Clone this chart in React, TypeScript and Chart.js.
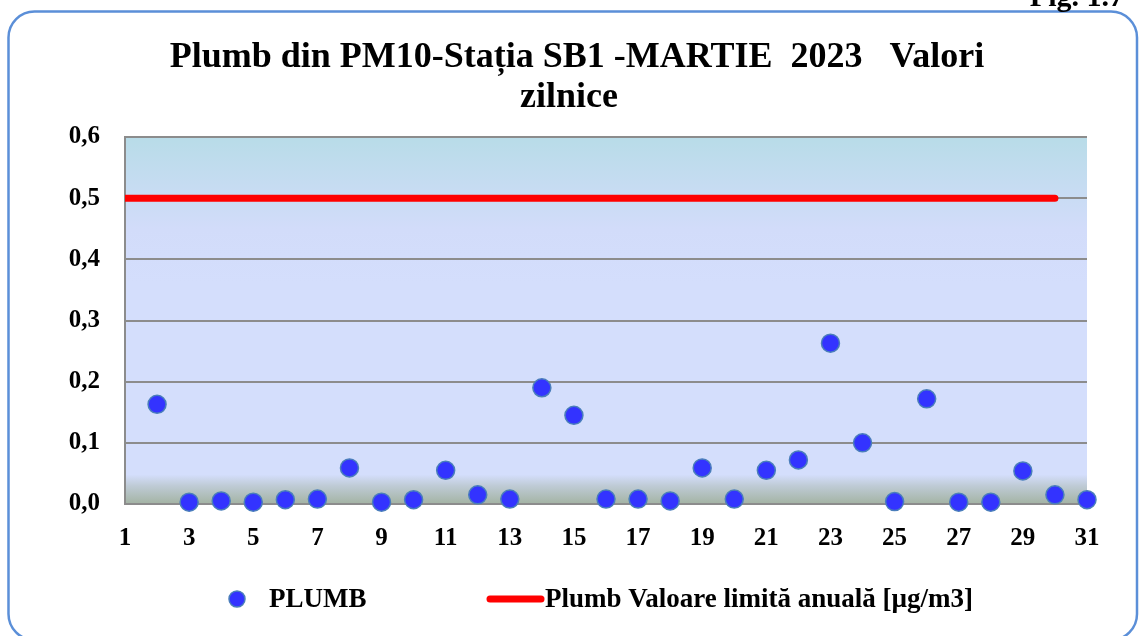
import React, { useEffect, useRef } from "react";
import { Chart, registerables } from "chart.js";

Chart.register(...registerables);

const days: number[] = [2, 3, 4, 5, 6, 7, 8, 9, 10, 11, 12, 13, 14, 15, 16, 17, 18, 19, 20, 21, 22, 23, 24, 25, 26, 27, 28, 29, 30, 31];
const plumbValues: number[] = [0.163, 0.003, 0.005, 0.003, 0.007, 0.008, 0.059, 0.003, 0.007, 0.055, 0.015, 0.008, 0.19, 0.145, 0.008, 0.008, 0.005, 0.059, 0.008, 0.055, 0.072, 0.263, 0.1, 0.004, 0.172, 0.003, 0.003, 0.054, 0.015, 0.007];
const limitDays: number[] = [1, 30];
const limitValues: number[] = [0.5, 0.5];
const xTicks: number[] = [1, 3, 5, 7, 9, 11, 13, 15, 17, 19, 21, 23, 25, 27, 29, 31];
const yTicks: number[] = [0, 0.1, 0.2, 0.3, 0.4, 0.5, 0.6];

const titleLines: string[] = ["Plumb din PM10-Stația SB1 -MARTIE  2023   Valori", "zilnice"];
const seriesNames: string[] = ["PLUMB", "Plumb Valoare limită anuală [µg/m3]"];
const figLabel = "Fig. 1.7";

const FONT = '"Liberation Serif", "DejaVu Serif", serif';

const W = 1139;
const H = 636;

const decorPlugin = {
  id: "decor",
  beforeDraw(chart: any) {
    const { ctx, chartArea } = chart;
    const { left, right, top, bottom } = chartArea;
    ctx.save();
    ctx.fillStyle = "#ffffff";
    ctx.fillRect(0, 0, W, H);
    // frame
    const x0 = 8.5, y0 = 11.5, x1 = 1137, y1 = 640, r = 26;
    ctx.beginPath();
    ctx.moveTo(x0 + r, y0);
    ctx.lineTo(x1 - r, y0);
    ctx.arcTo(x1, y0, x1, y0 + r, r);
    ctx.lineTo(x1, y1 - r);
    ctx.arcTo(x1, y1, x1 - r, y1, r);
    ctx.lineTo(x0 + r, y1);
    ctx.arcTo(x0, y1, x0, y1 - r, r);
    ctx.lineTo(x0, y0 + r);
    ctx.arcTo(x0, y0, x0 + r, y0, r);
    ctx.closePath();
    ctx.lineWidth = 2.5;
    ctx.strokeStyle = "#5b8fd8";
    ctx.stroke();
    // fig label (clipped at top)
    ctx.fillStyle = "#000";
    ctx.font = `bold 30px ${FONT}`;
    ctx.textAlign = "right";
    ctx.textBaseline = "alphabetic";
    ctx.fillText(figLabel, 1124, 6);
    // plot area gradient
    const g = ctx.createLinearGradient(0, top, 0, bottom);
    g.addColorStop(0, "#b8dce8");
    g.addColorStop(0.25, "#d2dcfa");
    g.addColorStop(0.4, "#d4defc");
    g.addColorStop(0.92, "#d4defc");
    g.addColorStop(0.95, "#bfcbd6");
    g.addColorStop(1, "#a3b3a3");
    ctx.fillStyle = g;
    ctx.fillRect(left, top, right - left, bottom - top);
    // title
    ctx.fillStyle = "#000";
    ctx.font = `bold 36px ${FONT}`;
    ctx.textAlign = "center";
    ctx.fillText(titleLines[0], 577, 67);
    ctx.fillText(titleLines[1], 569, 107);
    ctx.restore();
  },
  afterDraw(chart: any) {
    const { ctx } = chart;
    ctx.save();
    const ly = 599;
    ctx.beginPath();
    ctx.arc(237, ly, 8, 0, Math.PI * 2);
    ctx.fillStyle = "#3333ff";
    ctx.fill();
    ctx.lineWidth = 1.5;
    ctx.strokeStyle = "#4a7ebb";
    ctx.stroke();
    ctx.fillStyle = "#000";
    ctx.font = `bold 27px ${FONT}`;
    ctx.textAlign = "left";
    ctx.textBaseline = "middle";
    ctx.fillText(seriesNames[0], 269, ly + 1);
    ctx.beginPath();
    ctx.moveTo(490, ly);
    ctx.lineTo(541, ly);
    ctx.lineCap = "round";
    ctx.lineWidth = 7;
    ctx.strokeStyle = "#ff0000";
    ctx.stroke();
    ctx.fillText(seriesNames[1], 545, ly + 1);
    ctx.restore();
  },
};

export default function App() {
  const canvasRef = useRef<HTMLCanvasElement | null>(null);

  useEffect(() => {
    document.body.style.margin = "0";
    const canvas = canvasRef.current;
    if (!canvas) return;
    const chart = new Chart(canvas, {
      type: "scatter",
      data: {
        datasets: [
          {
            label: seriesNames[1],
            type: "line",
            data: limitDays.map((d, i) => ({ x: d, y: limitValues[i] })),
            borderColor: "#ff0000",
            borderWidth: 7,
            pointRadius: 0,
            borderCapStyle: "round",
            order: 2,
          } as any,
          {
            label: seriesNames[0],
            data: days.map((d, i) => ({ x: d, y: plumbValues[i] })),
            backgroundColor: "#3333ff",
            borderColor: "#4a7ebb",
            borderWidth: 1.5,
            pointRadius: 9,
            clip: false,
            order: 1,
          } as any,
        ],
      },
      options: {
        responsive: false,
        animation: false,
        devicePixelRatio: 1,
        layout: { padding: { left: 0, right: 52, top: 137, bottom: 0 } },
        plugins: {
          legend: { display: false },
          title: { display: false },
          tooltip: { enabled: false },
        },
        scales: {
          x: {
            type: "linear",
            min: 1,
            max: 31,
            afterFit: (s: any) => {
              s.height = H - 504;
            },
            afterBuildTicks: (s: any) => {
              s.ticks = xTicks.map((v) => ({ value: v }));
            },
            grid: { display: false, drawTicks: false },
            border: { display: true, color: "#8c8c8c", width: 2 },
            ticks: {
              color: "#000",
              font: { family: FONT, size: 25, weight: "bold" },
              padding: 20,
              maxRotation: 0,
              autoSkip: false,
            },
          },
          y: {
            type: "linear",
            min: 0,
            max: 0.6,
            afterFit: (s: any) => {
              s.width = 125;
            },
            afterBuildTicks: (s: any) => {
              s.ticks = yTicks.map((v) => ({ value: v }));
            },
            grid: { color: "#8c8c8c", lineWidth: 2, drawTicks: false },
            border: { display: true, color: "#8c8c8c", width: 2 },
            ticks: {
              color: "#000",
              font: { family: FONT, size: 25, weight: "bold" },
              padding: 25,
              callback: (v: any) => Number(v).toFixed(1).replace(".", ","),
            },
          },
        },
      },
      plugins: [decorPlugin],
    });
    return () => chart.destroy();
  }, []);

  return (
    <div style={{ position: "absolute", left: 0, top: 0, width: W, height: H }}>
      <canvas ref={canvasRef} width={W} height={H} style={{ width: W, height: H, display: "block" }} />
    </div>
  );
}
